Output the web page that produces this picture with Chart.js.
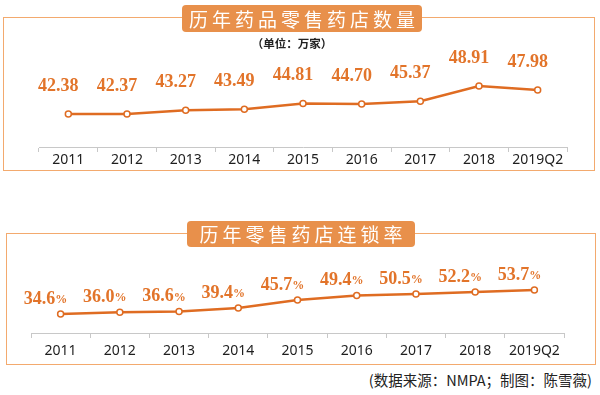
<!DOCTYPE html>
<html>
<head>
<meta charset="utf-8">
<script src="https://cdn.jsdelivr.net/npm/chart.js@4/dist/chart.umd.min.js"></script>
<style>
  body { margin: 0; background: #fff; width: 600px; height: 395px; position: relative; overflow: hidden;
         font-family: "Noto Sans CJK SC", sans-serif; }
  .box { position: absolute; border: 1.5px solid #f3aa6e; box-sizing: border-box; }
  .badge { position: absolute; background: #e8904b; border-radius: 4px; color: #fff; font-size: 19px;
           letter-spacing: 4px; text-align: center; box-sizing: border-box; padding-left: 4px; white-space: nowrap; }
  .cv { position: absolute; left: 0; }
  #unit { position: absolute; left: 248px; top: 35px; width: 88px; font-size: 11.5px; font-weight: bold; color: #222; text-align: center; white-space: nowrap; }
  #source { position: absolute; right: 8px; top: 369px; font-size: 14.5px; color: #222; white-space: nowrap; }
</style>
</head>
<body>
<div class="box" style="left:3px;top:17px;width:592px;height:154px;"></div>
<div class="box" style="left:6px;top:233px;width:590px;height:132px;"></div>

<canvas id="storeChart" class="cv" style="top:0px;" width="600" height="170"></canvas>
<canvas id="chainChart" class="cv" style="top:234px;" width="600" height="130"></canvas>

<div class="badge" style="left:182px;top:5px;width:240px;height:27px;line-height:27px;">历年药品零售药店数量</div>
<div id="unit">（单位：万家）</div>
<div class="badge" style="left:187px;top:221px;width:228px;height:26px;line-height:26px;">历年零售药店连锁率</div>
<div id="source">(数据来源：NMPA；制图：陈雪薇)</div>

<script>
// 데이터
const years = ['2011', '2012', '2013', '2014', '2015', '2016', '2017', '2018', '2019Q2'];
const storeCounts = [42.38, 42.37, 43.27, 43.49, 44.81, 44.70, 45.37, 48.91, 47.98];   // 万家
const chainRates = [34.6, 36.0, 36.6, 39.4, 45.7, 49.4, 50.5, 52.2, 53.7];             // %

const lineColor = '#df6c22';
const labelColor = '#e2742a';
const axisColor = '#c8c8c8';

// 점 위 값 라벨
const valueLabels = {
    id: 'valueLabels',
    afterDatasetsDraw(chart, args, o) {
        const ctx = chart.ctx;
        const meta = chart.getDatasetMeta(0);
        const data = chart.data.datasets[0].data;
        ctx.save();
        ctx.fillStyle = labelColor;
        ctx.textBaseline = 'middle';
        ctx.textAlign = 'left';
        meta.data.forEach((pt, i) => {
            const main = data[i].toFixed(o.digits);
            ctx.font = 'bold 18px "Liberation Serif", serif';
            const w1 = ctx.measureText(main).width;
            let w2 = 0;
            if (o.suffix) {
                ctx.font = 'bold 12px "Liberation Serif", serif';
                w2 = ctx.measureText(o.suffix).width;
            }
            const x = pt.x + o.dx - (w1 + w2) / 2;
            const y = pt.y - o.dy;
            ctx.font = 'bold 18px "Liberation Serif", serif';
            ctx.fillText(main, x, y);
            if (o.suffix) {
                ctx.font = 'bold 12px "Liberation Serif", serif';
                ctx.fillText(o.suffix, x + w1, y + 1);
            }
        });
        ctx.restore();
    }
};

function xAxis(axisHeight, pad) {
    return {
        offset: true,
        grid: { offset: true, drawOnChartArea: false, drawTicks: true, tickLength: 5, color: axisColor },
        border: { color: axisColor, width: 1 },
        ticks: { color: '#1e1e1e', padding: pad, maxRotation: 0, autoSkip: false,
                 font: { family: '"Noto Sans", sans-serif', size: 14 } },
        afterFit: s => { s.height = axisHeight; }
    };
}

function lineDataset(values) {
    return {
        data: values,
        borderColor: lineColor,
        borderWidth: 2.5,
        pointRadius: 3,
        pointBorderWidth: 1.5,
        pointBackgroundColor: '#fff',
        pointBorderColor: lineColor,
        tension: 0
    };
}

new Chart(document.getElementById('storeChart').getContext('2d'), {
    type: 'line',
    data: { labels: years, datasets: [lineDataset(storeCounts)] },
    options: {
        responsive: false,
        animation: false,
        layout: { padding: { left: 39, right: 33, top: 50, bottom: 0 } },
        plugins: {
            legend: { display: false },
            tooltip: { enabled: false },
            valueLabels: { digits: 2, dx: -10, dy: 28 }
        },
        scales: {
            x: xAxis(23, 0),
            y: { display: false, min: 34.68, max: 57.31 }
        }
    },
    plugins: [valueLabels]
});

new Chart(document.getElementById('chainChart').getContext('2d'), {
    type: 'line',
    data: { labels: years, datasets: [lineDataset(chainRates)] },
    options: {
        responsive: false,
        animation: false,
        layout: { padding: { left: 31, right: 36, top: 30, bottom: 0 } },
        plugins: {
            legend: { display: false },
            tooltip: { enabled: false },
            valueLabels: { digits: 1, suffix: '%', dx: -15, dy: 15 }
        },
        scales: {
            x: xAxis(31, 5),
            y: { display: false, min: 19.48, max: 74.39 }
        }
    },
    plugins: [valueLabels]
});
</script>
</body>
</html>
